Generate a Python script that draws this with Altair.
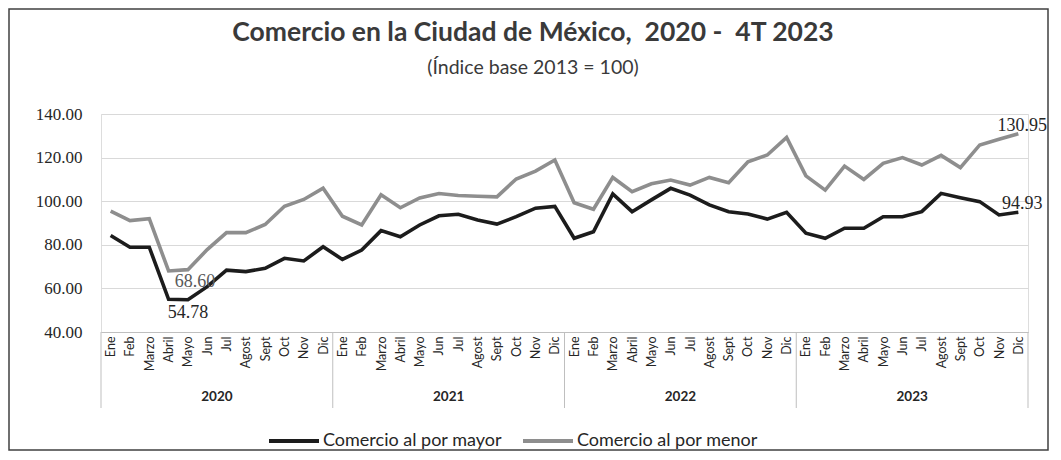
import altair as alt
import pandas as pd

title_text = "Comercio en la Ciudad de México,\u00a0 2020 -\u00a0 4T 2023"
subtitle_text = "(Índice base 2013 = 100)"
months = ["Ene", "Feb", "Marzo", "Abril", "Mayo", "Jun", "Jul", "Agost", "Sept", "Oct", "Nov", "Dic"]
years = ["2020", "2021", "2022", "2023"]

mayor = [
    84.3, 78.9, 78.9, 55.0, 54.78, 60.8, 68.4, 67.7, 69.2, 73.8, 72.6, 79.1,
    73.3, 77.6, 86.5, 83.7, 89.1, 93.3, 94.0, 91.4, 89.5, 92.9, 96.8, 97.6,
    83.0, 86.0, 103.3, 95.2, 100.6, 105.9, 102.8, 98.3, 95.2, 94.1, 91.8, 94.9,
    85.3, 83.0, 87.6, 87.6, 92.9, 92.9, 95.2, 103.6, 101.6, 99.8, 93.7, 94.93,
]
menor = [
    95.4, 91.1, 92.0, 68.0, 68.60, 77.8, 85.6, 85.6, 89.3, 97.7, 100.8, 106.0,
    93.1, 89.1, 103.0, 97.0, 101.5, 103.5, 102.6, 102.3, 102.0, 110.2, 113.8, 118.9,
    99.3, 96.3, 110.9, 104.4, 108.0, 109.7, 107.4, 110.9, 108.5, 118.1, 121.2, 129.3,
    111.6, 105.1, 116.1, 110.0, 117.4, 120.0, 116.6, 121.0, 115.4, 125.8, 128.4, 130.95,
]
series_names = ["Comercio al por mayor", "Comercio al por menor"]
series_colors = ["#1c1c1c", "#8e8e8e"]
y_ticks = [40, 60, 80, 100, 120, 140]

rows = []
for name, vals in zip(series_names, [mayor, menor]):
    for i, v in enumerate(vals):
        rows.append({"idx": i, "mes": months[i % 12], "anio": years[i // 12], "serie": name, "valor": v})
df = pd.DataFrame(rows)

W, H = 927, 218
xscale = alt.Scale(domain=[-0.5, 47.5], nice=False, zero=False)
yscale = alt.Scale(domain=[40, 140], nice=False, zero=False)

month_expr = "[" + ",".join("'%s'" % m for m in months) + "][datum.value % 12]"
x_axis = alt.Axis(values=list(range(48)), labelExpr=month_expr, labelAngle=-90,
                  labelAlign="right", labelBaseline="middle", labelPadding=4,
                  labelOverlap=False, labelBound=False, labelFlush=False,
                  ticks=False, grid=False, domain=True, domainColor="#bfbfbf",
                  labelFont="Lato", labelFontSize=12.5, labelColor="#262626", title=None)
y_axis = alt.Axis(values=y_ticks, format=".2f", ticks=False, domain=False, grid=True,
                  gridColor="#d9d9d9", gridWidth=1, labelFont="Liberation Serif",
                  labelFontSize=17, labelColor="#262626", labelPadding=19, title=None)

lines = alt.Chart(df).mark_line(strokeWidth=3.6, strokeJoin="miter").encode(
    x=alt.X("idx:Q", scale=xscale, axis=x_axis),
    y=alt.Y("valor:Q", scale=yscale, axis=y_axis),
    color=alt.Color("serie:N", scale=alt.Scale(domain=series_names, range=series_colors),
                    legend=alt.Legend(orient="none", legendX=166, legendY=300, direction="horizontal",
                                      title=None, symbolType="stroke", symbolSize=2500,
                                      symbolStrokeWidth=4, labelFont="Lato", labelFontSize=18,
                                      labelColor="#262626", labelOffset=2, columnPadding=13,
                                      labelLimit=300, padding=0)),
)

# year separators and year labels
sep_df = pd.DataFrame({"pos": [-0.5, 11.5, 23.5, 35.5, 47.5]})
seps = alt.Chart(sep_df).mark_rule(color="#bfbfbf", strokeWidth=1).encode(
    x=alt.X("pos:Q", scale=xscale, axis=x_axis), y=alt.value(H), y2=alt.value(H + 76)
)
year_df = pd.DataFrame({"anio": years, "centro": [5.5, 17.5, 29.5, 41.5]})
year_text = alt.Chart(year_df).mark_text(font="Lato", fontSize=13.5, fontWeight="bold",
                                          color="#262626", baseline="middle").encode(
    x=alt.X("centro:Q", scale=xscale, axis=x_axis), y=alt.value(H + 65), text="anio:N"
)

# data labels
lab_df = df[((df["idx"] == 4) | (df["idx"] == 47))].copy()
lab_df["txt"] = lab_df["valor"].map(lambda v: f"{v:.2f}")
low_mayor = alt.Chart(lab_df[(lab_df.idx == 4) & (lab_df.serie == series_names[0])]).mark_text(
    font="Liberation Serif", fontSize=18, color="#262626", baseline="top", dy=4).encode(
    x=alt.X("idx:Q", scale=xscale, axis=x_axis), y=alt.Y("valor:Q", scale=yscale, axis=y_axis), text="txt:N")
low_menor = alt.Chart(lab_df[(lab_df.idx == 4) & (lab_df.serie == series_names[1])]).mark_text(
    font="Liberation Serif", fontSize=18, color="#595959", baseline="top", dx=7, dy=3).encode(
    x=alt.X("idx:Q", scale=xscale, axis=x_axis), y=alt.Y("valor:Q", scale=yscale, axis=y_axis), text="txt:N")
end_labels = alt.Chart(lab_df[lab_df.idx == 47]).mark_text(
    font="Liberation Serif", fontSize=18, color="#262626", baseline="bottom", dx=4, dy=1).encode(
    x=alt.X("idx:Q", scale=xscale, axis=x_axis), y=alt.Y("valor:Q", scale=yscale, axis=y_axis), text="txt:N")

# title as text
t_df = pd.DataFrame({"t": [title_text], "s": [subtitle_text]})
title_mark = alt.Chart(t_df).mark_text(font="Lato", fontSize=26.5, fontWeight="bold", color="#3a3a3a",
                                       baseline="alphabetic", align="center").encode(
    x=alt.value(432), y=alt.value(-73), text="t:N")
subtitle_mark = alt.Chart(t_df).mark_text(font="Lato", fontSize=19.5, color="#3a3a3a",
                                          baseline="alphabetic", align="center").encode(
    x=alt.value(432), y=alt.value(-40), text="s:N")

# outer frame
frame = alt.Chart(pd.DataFrame({"k": [0]})).mark_rect(fill=None, stroke="#404040", strokeWidth=1.5).encode(
    x=alt.value(-92), x2=alt.value(W + 20), y=alt.value(-105), y2=alt.value(H + 118)
)

chart = alt.layer(lines, frame, seps, year_text, low_mayor, low_menor, end_labels,
                  title_mark, subtitle_mark).properties(
    width=W, height=H,
    autosize=alt.AutoSizeParams(type="none"),
    padding={"left": 93, "top": 106, "right": 25, "bottom": 120},
).configure_view(stroke=None).configure(background="white")

chart.save("out.html", embed_options={"renderer": "svg", "actions": False})
